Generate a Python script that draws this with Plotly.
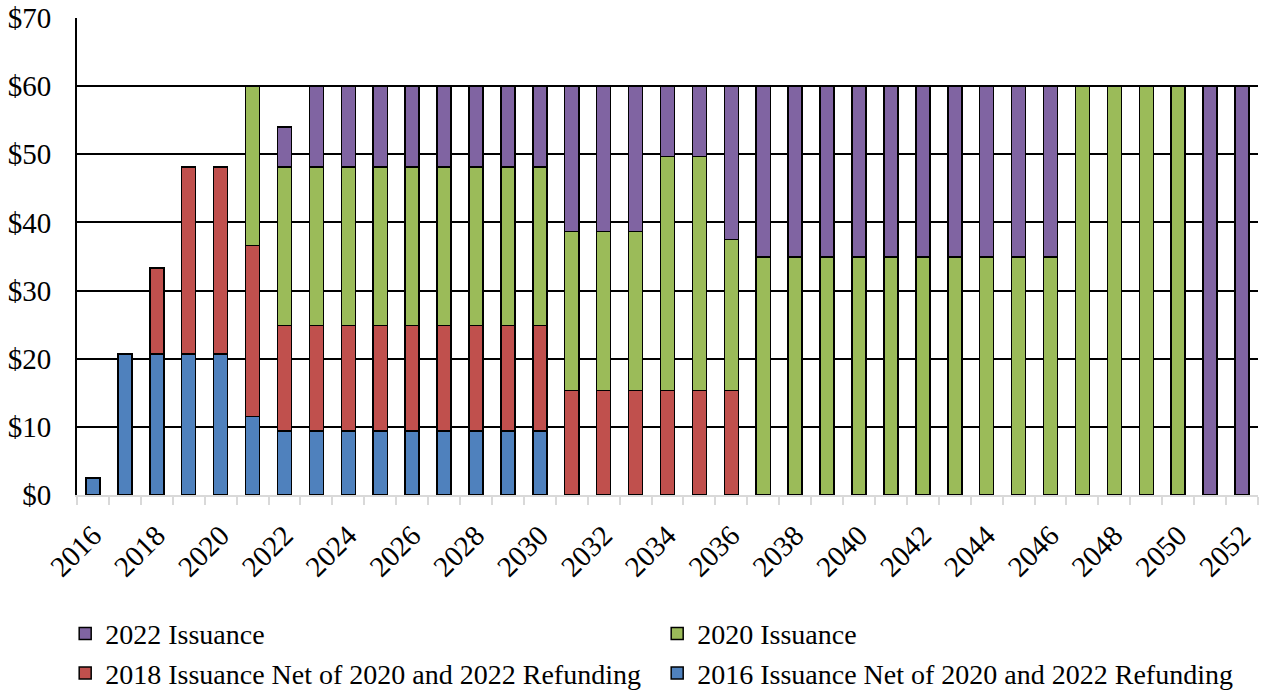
import plotly.graph_objects as go

years = list(range(2016, 2053))
tick_years = list(range(2016, 2053, 2))
tick_labels = [str(y) for y in tick_years]

blue_2016 = [2.5, 20.7, 20.7, 20.7, 20.7, 11.5,
             9.4, 9.4, 9.4, 9.4, 9.4, 9.4, 9.4, 9.4, 9.4,
             0, 0, 0, 0, 0, 0, 0, 0, 0, 0, 0, 0, 0, 0, 0, 0, 0, 0, 0, 0, 0, 0]
red_2018 = [0, 0, 12.6, 27.4, 27.4, 25.1,
            15.5, 15.5, 15.5, 15.5, 15.5, 15.5, 15.5, 15.5, 15.5,
            15.35, 15.35, 15.35, 15.35, 15.35, 15.35,
            0, 0, 0, 0, 0, 0, 0, 0, 0, 0, 0, 0, 0, 0, 0, 0]
green_2020 = [0, 0, 0, 0, 0, 23.4,
              23.2, 23.2, 23.2, 23.2, 23.2, 23.2, 23.2, 23.2, 23.2,
              23.3, 23.3, 23.3, 34.35, 34.35, 22.15,
              34.9, 34.9, 34.9, 34.9, 34.9, 34.9, 34.9, 34.9, 34.9, 34.9,
              60, 60, 60, 60, 0, 0]
purple_2022 = [0, 0, 0, 0, 0, 0,
               5.9, 11.9, 11.9, 11.9, 11.9, 11.9, 11.9, 11.9, 11.9,
               21.3, 21.3, 21.3, 10.3, 10.3, 22.5,
               25.1, 25.1, 25.1, 25.1, 25.1, 25.1, 25.1, 25.1, 25.1, 25.1,
               0, 0, 0, 0, 60, 60]

series = [
    ("2016 Issuance Net of 2020 and 2022 Refunding", blue_2016, "#4F81BD"),
    ("2018 Issuance Net of 2020 and 2022 Refunding", red_2018, "#C0504D"),
    ("2020 Issuance", green_2020, "#9BBB59"),
    ("2022 Issuance", purple_2022, "#8064A2"),
]

FONT = "Liberation Serif"
FS = 29
LFS = 28
fig = go.Figure()
for name, vals, color in series:
    fig.add_trace(go.Bar(
        x=years, y=[v if v else None for v in vals], name=name,
        marker=dict(color=color, line=dict(color="black", width=1.5)),
    ))

minor_ticks = [y - 0.5 for y in years] + [years[-1] + 0.5]

fig.update_layout(
    barmode="stack",
    bargap=0.56,
    width=1268, height=692,
    margin=dict(l=77, r=10, t=18, b=197, autoexpand=False),
    plot_bgcolor="white", paper_bgcolor="white",
    font=dict(family=FONT, size=FS, color="black"),
    legend=dict(
        orientation="h", traceorder="reversed",
        x=-0.01, xanchor="left", y=-0.2387, yanchor="top",
        entrywidth=547, entrywidthmode="pixels",
        font=dict(family=FONT, size=LFS, color="black"),
        itemwidth=30, tracegroupgap=0,
    ),
    xaxis=dict(
        range=[years[0] - 0.5, years[-1] + 0.5], automargin=False,
        tickmode="array", tickvals=tick_years, ticktext=tick_labels,
        tickangle=-45, ticks="", showgrid=False, zeroline=False,
        ticklabelstandoff=10,
        showline=True, linecolor="#d9d9d9", linewidth=2,
        minor=dict(tickmode="array", tickvals=minor_ticks, ticks="outside",
                   ticklen=8, tickwidth=2, tickcolor="#d9d9d9", showgrid=False),
        tickfont=dict(family=FONT, size=FS),
    ),
    yaxis=dict(
        range=[0, 70], tickmode="linear", tick0=0, dtick=10, automargin=False,
        tickprefix="$", showgrid=True, gridcolor="black", gridwidth=1.5,
        zeroline=False, showline=True, linecolor="black", linewidth=2,
        ticks="", ticklabelstandoff=18, tickfont=dict(family=FONT, size=FS),
    ),
)

fig.write_html("out.html")
